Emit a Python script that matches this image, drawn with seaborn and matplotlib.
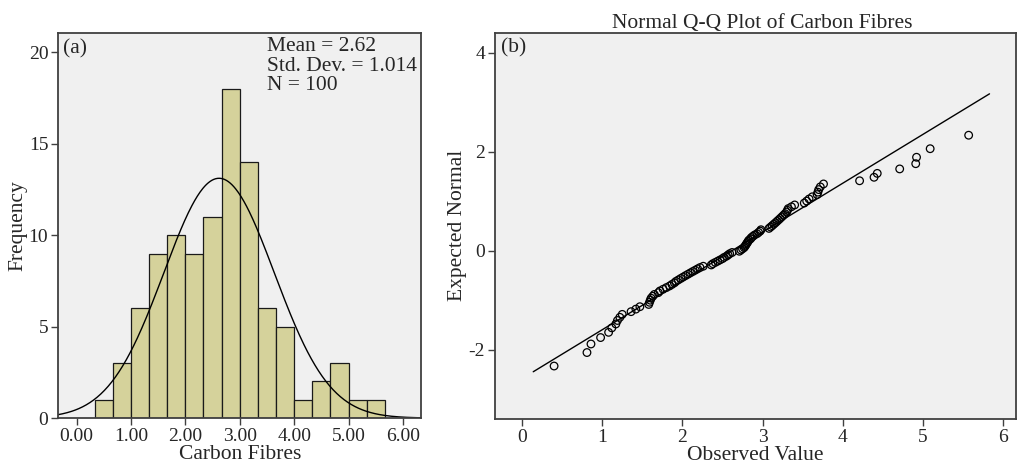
import numpy as np
import pandas as pd
import matplotlib
matplotlib.use("Agg")
import matplotlib.pyplot as plt
import seaborn as sns
from statistics import NormalDist

# observed carbon fibre values (sorted)
carbon = [0.40,
          0.81, 0.86, 0.98,
          1.08, 1.12, 1.17, 1.19, 1.22, 1.25,
          1.36, 1.42, 1.47, 1.58, 1.59, 1.60, 1.61, 1.63, 1.65,
          1.70, 1.72, 1.76, 1.80, 1.84, 1.87, 1.90, 1.92, 1.95, 1.98,
          2.01, 2.04, 2.07, 2.10, 2.13, 2.16, 2.19, 2.22, 2.26,
          2.36, 2.38, 2.41, 2.44, 2.47, 2.50, 2.52, 2.55, 2.57, 2.59, 2.62,
          2.71, 2.73, 2.75, 2.77, 2.78, 2.79, 2.80, 2.81, 2.82, 2.83, 2.85,
          2.86, 2.88, 2.90, 2.93, 2.95, 2.97, 2.98,
          3.08, 3.10, 3.12, 3.14, 3.16, 3.18, 3.20, 3.22, 3.24, 3.26, 3.28,
          3.30, 3.31, 3.32,
          3.36, 3.40, 3.52, 3.55, 3.58, 3.62,
          3.68, 3.69, 3.70, 3.72, 3.76,
          4.21,
          4.39, 4.43,
          4.71, 4.91, 4.92,
          5.09,
          5.57]
mean_val = 2.62
sd_val = 1.014
n_val = 100
bin_edges = np.arange(1, 18) / 3.0
xticks_a = [0, 1, 2, 3, 4, 5, 6]
yticks_a = [0, 5, 10, 15, 20]
xticks_b = [0, 1, 2, 3, 4, 5, 6]
yticks_b = [-2, 0, 2, 4]
qq_line_x = [0.14, 5.83]

bar_color = "#D5D29B"
bg = "#F0F0F0"
spine_col = "#404040"

sns.set_style("ticks")
plt.rcParams["font.family"] = ["Liberation Serif", "DejaVu Serif"]
plt.rcParams["font.size"] = 15.5
plt.rcParams["axes.unicode_minus"] = False

df = pd.DataFrame({"Carbon Fibres": carbon})
df = df.sort_values("Carbon Fibres").reset_index(drop=True)
nd = NormalDist()
df["Expected Normal"] = [nd.inv_cdf((i + 1) / (len(df) + 1)) for i in range(len(df))]

fig = plt.figure(figsize=(10.18, 4.74), dpi=100)
ax1 = fig.add_axes([0.057, 0.118, 0.357, 0.812])
ax2 = fig.add_axes([0.486, 0.116, 0.512, 0.815])

# ---- (a) histogram with normal curve
sns.histplot(data=df, x="Carbon Fibres", bins=bin_edges, ax=ax1, color=bar_color,
             alpha=1, edgecolor="#1a1a1a", linewidth=0.9)
xs = np.linspace(-0.34, 6.34, 400)
binw = bin_edges[1] - bin_edges[0]
pdf = n_val * binw * np.exp(-0.5 * ((xs - mean_val) / sd_val) ** 2) / (sd_val * np.sqrt(2 * np.pi))
sns.lineplot(x=xs, y=pdf, ax=ax1, color="black", linewidth=1.0)
ax1.set_xlim(-0.34, 6.34)
ax1.set_ylim(0, 21.05)
ax1.set_xticks(xticks_a)
ax1.set_xticklabels([f"{t:.2f}" for t in xticks_a])
ax1.set_yticks(yticks_a)
ax1.set_xlabel("Carbon Fibres", labelpad=0)
ax1.set_ylabel("Frequency", labelpad=1)
ax1.text(0.015, 0.985, "(a)", transform=ax1.transAxes, va="top", ha="left")
ax1.text(0.575, 0.99, f"Mean = {mean_val:.2f}\nStd. Dev. = {sd_val:.3f}\nN = {n_val}",
         transform=ax1.transAxes, va="top", ha="left", linespacing=1.05)

# ---- (b) normal Q-Q plot
sns.scatterplot(data=df, x="Carbon Fibres", y="Expected Normal", ax=ax2,
                marker="o", s=30, facecolor="none", edgecolor="black", linewidth=0.9)
line_y = [(v - mean_val) / sd_val for v in qq_line_x]
sns.lineplot(x=qq_line_x, y=line_y, ax=ax2, color="black", linewidth=1.0)
ax2.set_xlim(-0.34, 6.16)
ax2.set_ylim(-3.4, 4.4)
ax2.set_xticks(xticks_b)
ax2.set_yticks(yticks_b)
ax2.set_xlabel("Observed Value", labelpad=0)
ax2.set_ylabel("Expected Normal", labelpad=1)
ax2.set_title("Normal Q-Q Plot of Carbon Fibres", fontsize=15.5, pad=3, x=0.513)
ax2.text(0.012, 0.985, "(b)", transform=ax2.transAxes, va="top", ha="left")

for ax in (ax1, ax2):
    ax.set_facecolor(bg)
    for sp in ax.spines.values():
        sp.set_visible(True)
        sp.set_color(spine_col)
        sp.set_linewidth(1.3)
    ax.tick_params(direction="out", length=5, width=1, color=spine_col, labelsize=14, pad=2)

fig.savefig("out.png", dpi=100)
